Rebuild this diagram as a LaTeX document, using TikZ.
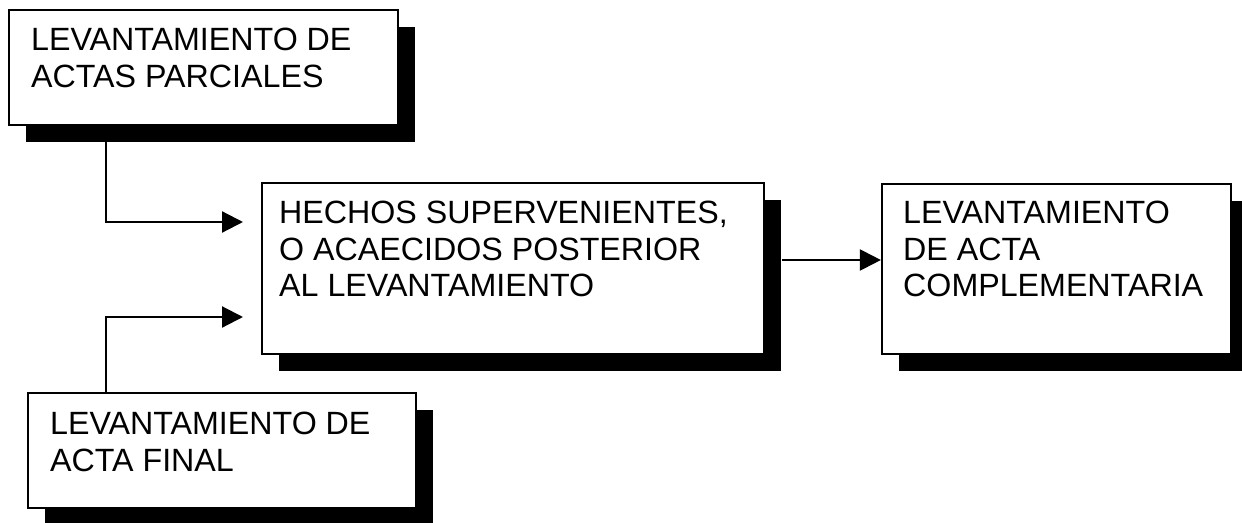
\documentclass[tikz,border=0pt]{standalone}
\usepackage{fontspec}
\setmainfont{Liberation Sans}
\usetikzlibrary{arrows.meta,shadows}
\begin{document}
\begin{tikzpicture}[x=1pt,y=-1pt,
  box/.style={draw=black, line width=2.2pt, fill=white, rectangle, inner sep=0pt,
    general shadow={fill=black, shadow xshift=17pt, shadow yshift=-17pt}},
  label/.style={anchor=north west, inner sep=0pt, align=left,
    font=\fontsize{32.2}{36.5}\selectfont},
  conn/.style={line width=2.2pt, -{Triangle[length=21pt,width=21pt]}}]
\useasboundingbox (0,0) rectangle (1242,522);
% boxes
\node[box, minimum width=389pt, minimum height=115pt] (box1) at (203.5,67.5) {};
\node[box, minimum width=502pt, minimum height=171pt] (box2) at (513,268.5) {};
\node[box, minimum width=349pt, minimum height=170pt] (box3) at (1056.5,269) {};
\node[box, minimum width=388pt, minimum height=115pt] (box4) at (222,450.5) {};
% texts
\node[label] (txt1) at (31,28) {LEVANTAMIENTO DE\\ACTAS PARCIALES};
\node[label] (txt2) at (279,201) {HECHOS SUPERVENIENTES,\\O ACAECIDOS POSTERIOR\\AL LEVANTAMIENTO};
\node[label] (txt3) at (903,201) {LEVANTAMIENTO\\DE ACTA\\COMPLEMENTARIA};
\node[label] (txt4) at (50,412) {LEVANTAMIENTO DE\\ACTA FINAL};
% connector coordinates
\coordinate (c1) at (106,222);
\coordinate (t1) at (243,222);
\coordinate (c2) at (106,317);
\coordinate (t2) at (243,317);
\coordinate (a3) at (782,260);
% connectors
\draw[conn] (box1.south -| c1) -- (c1) -- (t1);
\draw[conn] (box4.north -| c2) -- (c2) -- (t2);
\draw[conn] (a3) -- (box3.west |- a3);
\end{tikzpicture}
\end{document}
